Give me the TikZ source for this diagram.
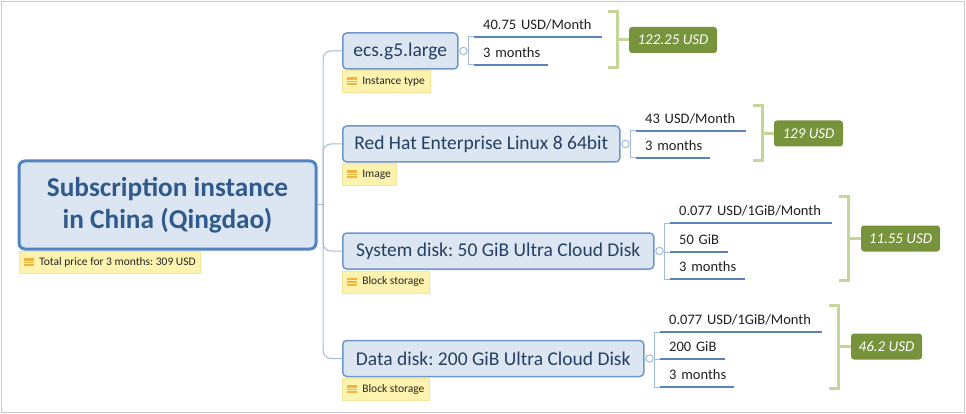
\documentclass[tikz,border=0pt]{standalone}
\usepackage{fontspec}
\setmainfont{Carlito}
\frenchspacing
\definecolor{rootline}{HTML}{5283C0}
\definecolor{rootfill}{HTML}{DCE6F2}
\definecolor{roottext}{HTML}{30598C}
\definecolor{childline}{HTML}{6F96C9}
\definecolor{childfill}{HTML}{DCE6F2}
\definecolor{childtext}{HTML}{243F60}
\definecolor{conncol}{HTML}{A3BBDA}
\definecolor{ulinecol}{HTML}{5883BE}
\definecolor{knobcol}{HTML}{9DB4D3}
\definecolor{notefill}{HTML}{FDF2AE}
\definecolor{noteline}{HTML}{F3E49C}
\definecolor{iconcol}{HTML}{F1B43E}
\definecolor{brkcol}{HTML}{C4D79B}
\definecolor{pricefill}{HTML}{77933C}
\definecolor{framecol}{HTML}{C8C8C8}
\begin{document}
\begin{tikzpicture}[x=1pt,y=-1pt,
  rootbox/.style={draw=rootline, line width=3, fill=rootfill, rounded corners=6,
    minimum width=297, minimum height=88, align=center, text=roottext,
    font=\fontsize{27.3}{32}\selectfont\bfseries, inner sep=0},
  childbox/.style={draw=childline, line width=1.5, fill=childfill, rounded corners=4,
    minimum height=36, anchor=west, text=childtext,
    font=\fontsize{19.5}{22}\selectfont, inner sep=0},
  note/.style={fill=notefill, draw=noteline, line width=0.6, anchor=north west,
    minimum height=22, inner xsep=5, inner ysep=0,
    font=\fontsize{11.5}{13}\selectfont, text=black!85},
  leaf/.style={anchor=south west, inner xsep=9, inner ysep=0, minimum height=24,
    align=left, font=\fontsize{14.5}{17}\selectfont, text=black!88},
  uline/.style={draw=ulinecol, line width=2.2},
  conn/.style={draw=conncol, line width=1},
  knob/.style={circle, draw=knobcol, fill=white, line width=0.9, minimum size=7.5, inner sep=0},
  brk/.style={draw=brkcol, line width=3},
  price/.style={fill=pricefill, rounded corners=3, text=white,
    font=\fontsize{15}{17}\selectfont\itshape, inner sep=0, minimum height=26}
]
\useasboundingbox (0,0) rectangle (966,414);
\draw[draw=framecol, line width=1.2] (1.5,1.5) rectangle (964.5,412.5);

% root
\node[rootbox] (root) at (167.5,205) {Subscription instance\\in China (Qingdao)};
\node[note] (n0) at (19,251) {\hspace*{15pt}Total price for 3 months: 309 USD};

% children
\node[childbox, minimum width=115] (ecs) at (342,51) {ecs.g5.large};
\node[childbox, minimum width=277] (rh) at (342,144) {Red Hat Enterprise Linux 8 64bit};
\node[childbox, minimum width=311] (sys) at (342,251) {System disk: 50 GiB Ultra Cloud Disk};
\node[childbox, minimum width=301] (dat) at (342,358.5) {Data disk: 200 GiB Ultra Cloud Disk};

\node[note] (n1) at (342,70) {\hspace*{15pt}Instance type};
\node[note] (n2) at (342,163) {\hspace*{15pt}Image};
\node[note] (n3) at (342,270.5) {\hspace*{15pt}Block storage};
\node[note] (n4) at (342,378) {\hspace*{15pt}Block storage};

\foreach \n in {n0,n1,n2,n3,n4}{
  \fill[iconcol] ([xshift=4.5,yshift=4]\n.west) rectangle ++(10,8);
  \draw[notefill, line width=0.8] ([xshift=4.5,yshift=1.3]\n.west) -- ++(10,0);
  \draw[notefill, line width=0.8] ([xshift=4.5,yshift=-1.3]\n.west) -- ++(10,0);
}

% trunk
\coordinate (hub) at (323,205);
\draw[conn] (root.east) -- (hub);
\draw[conn, rounded corners=8] (hub) |- (ecs.west);
\draw[conn, rounded corners=8] (hub) |- (rh.west);
\draw[conn, rounded corners=8] (hub) |- (sys.west);
\draw[conn, rounded corners=8] (hub) |- (dat.west);

% knobs
\node[knob] (k1) at ([xshift=5]ecs.east) {};
\node[knob] (k2) at ([xshift=5]rh.east) {};
\node[knob] (k3) at ([xshift=5]sys.east) {};
\node[knob] (k4) at ([xshift=5]dat.east) {};
\coordinate (j1) at ([xshift=10]ecs.east);
\coordinate (j2) at ([xshift=10]rh.east);
\coordinate (j3) at ([xshift=10]sys.east);
\coordinate (j4) at ([xshift=10]dat.east);

% leaves
\node[leaf, text width=110] (l11) at (474,37) {40.75~USD/Month};
\node[leaf, text width=56] (l12) at (474,65) {3~months};
\node[leaf, text width=92] (l21) at (636,131) {43~USD/Month};
\node[leaf, text width=56] (l22) at (636,158) {3~months};
\node[leaf, text width=144] (l31) at (670,223) {0.077~USD/1GiB/Month};
\node[leaf, text width=40] (l32) at (670,252) {50~GiB};
\node[leaf, text width=57] (l33) at (670,279) {3~months};
\node[leaf, text width=144] (l41) at (660,332) {0.077~USD/1GiB/Month};
\node[leaf, text width=47] (l42) at (660,359) {200~GiB};
\node[leaf, text width=56] (l43) at (660,387) {3~months};

\draw[conn] (k1.east) -- (j1);
\draw[conn] (j1) |- (l11.south west);
\draw[conn] (j1) |- (l12.south west);
\draw[conn] (k2.east) -- (j2);
\draw[conn] (j2) |- (l21.south west);
\draw[conn] (j2) |- (l22.south west);
\draw[conn] (k3.east) -- (j3);
\draw[conn] (j3) |- (l31.south west);
\draw[conn] (j3) |- (l32.south west);
\draw[conn] (j3) |- (l33.south west);
\draw[conn] (k4.east) -- (j4);
\draw[conn] (j4) |- (l41.south west);
\draw[conn] (j4) |- (l42.south west);
\draw[conn] (j4) |- (l43.south west);

\foreach \l in {l11,l12,l21,l22,l31,l32,l33,l41,l42,l43}{
  \draw[uline] (\l.south west) -- (\l.south east);
}

% prices
\node[price, minimum width=88] (p1) at (673,40) {122.25 USD};
\node[price, minimum width=69] (p2) at (808.5,133.5) {129 USD};
\node[price, minimum width=79] (p3) at (900.5,238.5) {11.55 USD};
\node[price, minimum width=71] (p4) at (886.5,346.5) {46.2 USD};

% brackets
\draw[brk] (608,12) -- (617,12) -- (617,68) -- (608,68);
\draw[brk] (617,40) -- (p1.west);
\draw[brk] (753,106) -- (762,106) -- (762,161) -- (753,161);
\draw[brk] (762,133.5) -- (p2.west);
\draw[brk] (839,197) -- (848,197) -- (848,280) -- (839,280);
\draw[brk] (848,238.5) -- (p3.west);
\draw[brk] (829,305) -- (838,305) -- (838,388) -- (829,388);
\draw[brk] (838,346.5) -- (p4.west);
\end{tikzpicture}
\end{document}
